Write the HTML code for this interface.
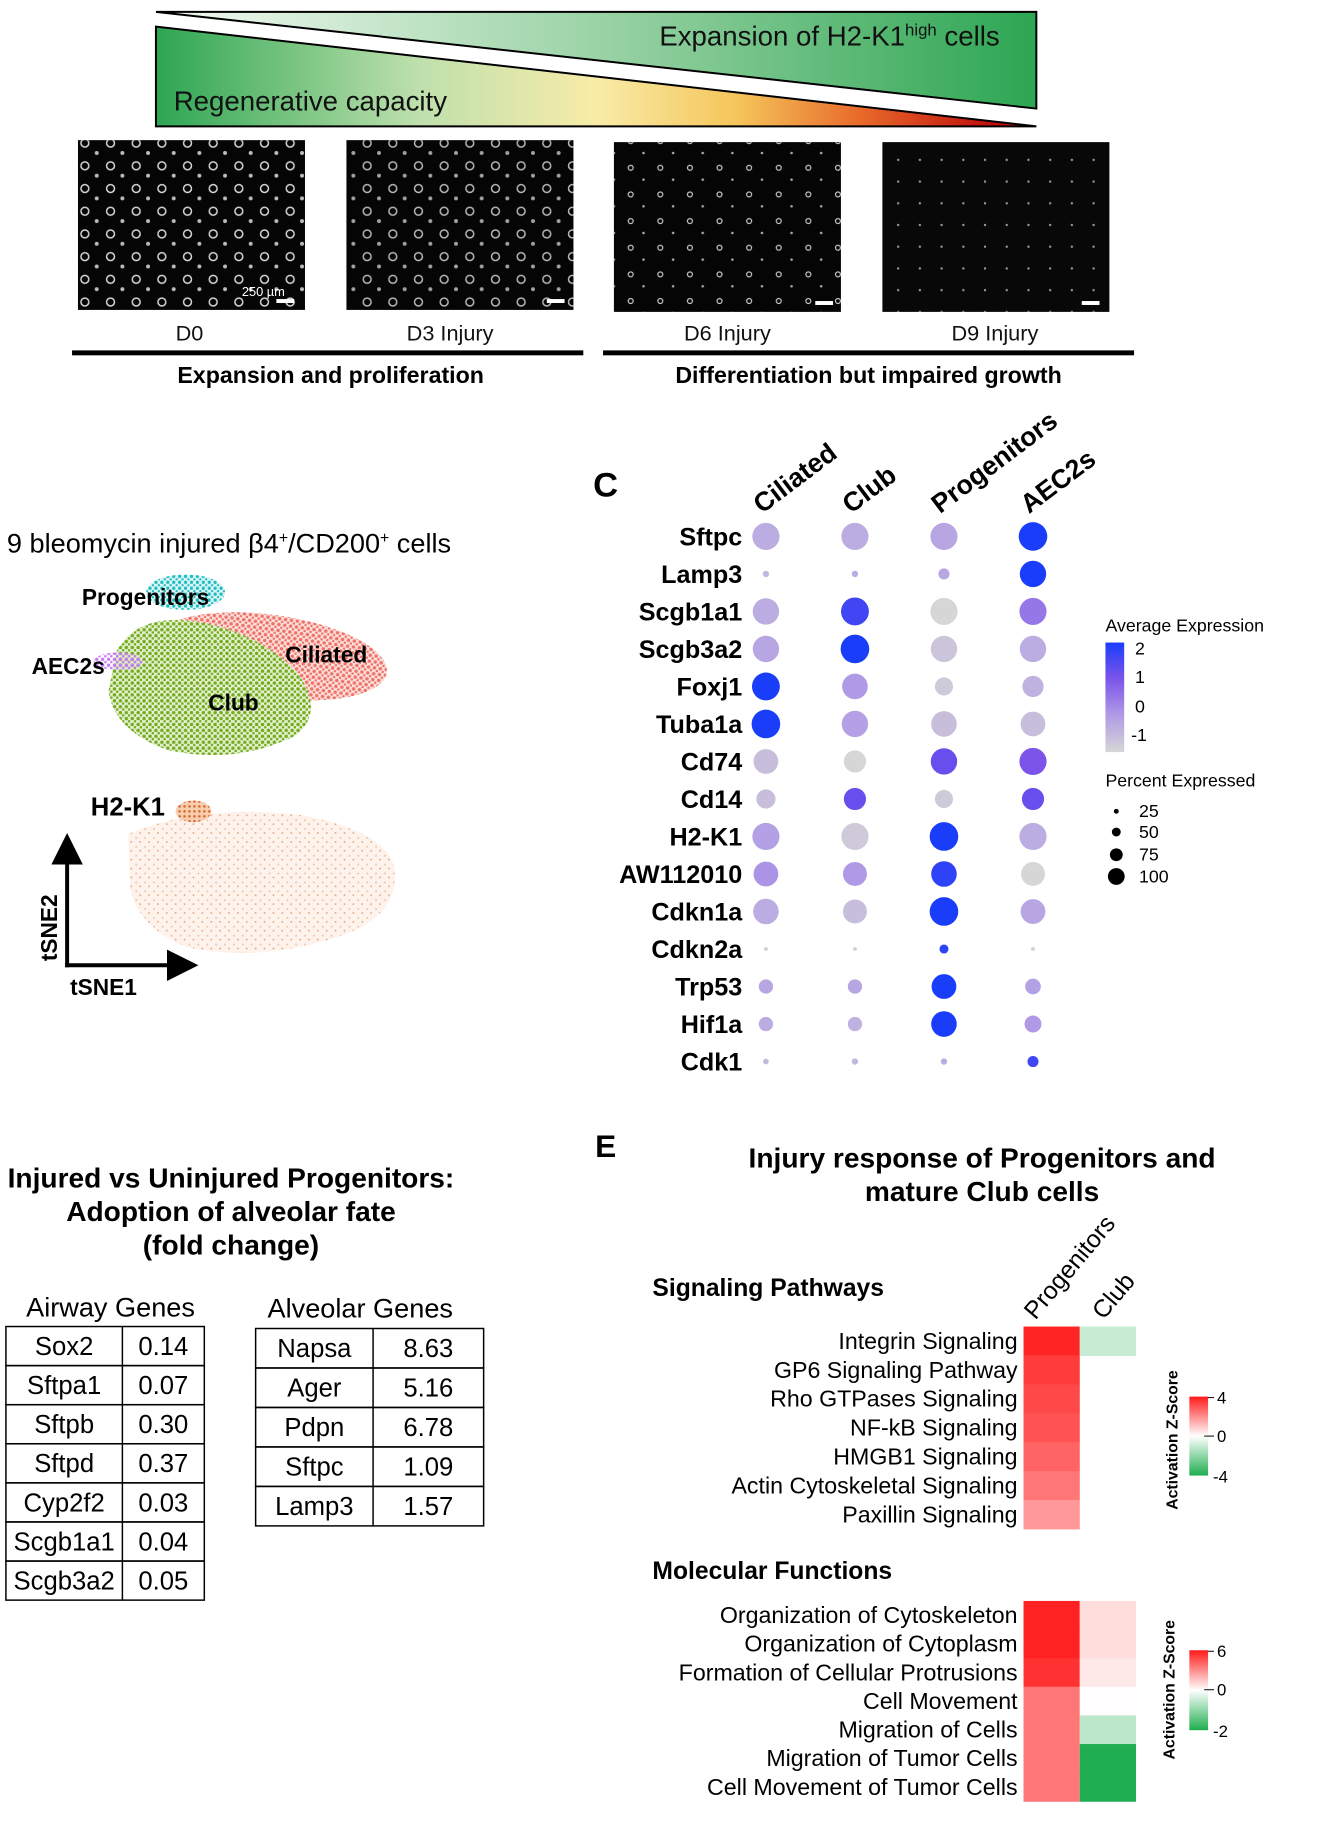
<!DOCTYPE html>
<html><head><meta charset="utf-8"><style>
body{margin:0;background:#fff;}
svg{display:block;font-family:"Liberation Sans",Arial,sans-serif;}
</style></head><body>
<svg id="fig" width="1335" height="1827" viewBox="0 0 1335 1827" xmlns="http://www.w3.org/2000/svg">
<defs>
<linearGradient id="gUp" x1="0" x2="1" y1="0" y2="0"><stop offset="0" stop-color="#f4faf2"/><stop offset="0.5" stop-color="#9bd3a6"/><stop offset="1" stop-color="#2da653"/></linearGradient>
<linearGradient id="gLow" x1="0" x2="1" y1="0" y2="0"><stop offset="0" stop-color="#2da653"/><stop offset="0.3" stop-color="#bfe0ad"/><stop offset="0.5" stop-color="#f8eca8"/><stop offset="0.66" stop-color="#f5c55a"/><stop offset="0.8" stop-color="#e86a2a"/><stop offset="0.95" stop-color="#c00d0d"/></linearGradient>
<pattern id="pRing" width="26" height="23" patternUnits="userSpaceOnUse"><circle cx="8" cy="7" r="4" fill="none" stroke="#d8d8d8" stroke-width="1.5"/><circle cx="20" cy="17" r="2" fill="#bbb"/></pattern>
<pattern id="pRing2" width="30" height="27" patternUnits="userSpaceOnUse"><circle cx="9" cy="8" r="2.5" fill="none" stroke="#c8c8c8" stroke-width="1.2"/><circle cx="22" cy="20" r="1.3" fill="#aaa"/></pattern>
<pattern id="pRing3" width="22" height="22" patternUnits="userSpaceOnUse"><circle cx="8" cy="8" r="1.2" fill="#999"/></pattern>
<pattern id="pGreen" width="6" height="6" patternUnits="userSpaceOnUse"><rect width="6" height="6" fill="#e6f0d4"/><circle cx="2" cy="2" r="1.8" fill="#74ac1c"/><circle cx="5" cy="5" r="1.5" fill="#74ac1c"/></pattern>
<pattern id="pRed" width="6" height="6" patternUnits="userSpaceOnUse"><rect width="6" height="6" fill="#fbe0dc"/><circle cx="2" cy="2" r="1.8" fill="#f07167"/><circle cx="5" cy="5" r="1.4" fill="#f07167"/></pattern>
<pattern id="pCyan" width="6" height="6" patternUnits="userSpaceOnUse"><rect width="6" height="6" fill="#e0f6f6"/><circle cx="2" cy="2" r="1.7" fill="#1bbdc0"/><circle cx="5" cy="5" r="1.3" fill="#1bbdc0"/></pattern>
<pattern id="pPurp" width="6" height="6" patternUnits="userSpaceOnUse"><circle cx="2" cy="2" r="1.8" fill="#c47cf5"/><circle cx="5" cy="5" r="1.5" fill="#c47cf5"/></pattern>
<pattern id="pPeach" width="9" height="9" patternUnits="userSpaceOnUse"><rect width="9" height="9" fill="#fdf3ec"/><circle cx="3" cy="3" r="1" fill="#f2c3a2"/><circle cx="7" cy="7" r="0.9" fill="#e79a6a"/></pattern>
<pattern id="pOrange" width="5" height="5" patternUnits="userSpaceOnUse"><rect width="5" height="5" fill="#f7cfb0"/><circle cx="2" cy="2" r="1.3" fill="#d9652a"/></pattern>
<linearGradient id="cbBlue" x1="0" x2="0" y1="0" y2="1"><stop offset="0" stop-color="#1a3dfa"/><stop offset="0.33" stop-color="#7c54ea"/><stop offset="0.66" stop-color="#b09ae6"/><stop offset="1" stop-color="#d6d6d6"/></linearGradient>
<linearGradient id="cbRG" x1="0" x2="0" y1="0" y2="1"><stop offset="0" stop-color="#ff1a1a"/><stop offset="0.5" stop-color="#ffffff"/><stop offset="1" stop-color="#1fae50"/></linearGradient>
<linearGradient id="cbRG2" x1="0" x2="0" y1="0" y2="1"><stop offset="0" stop-color="#ff1a1a"/><stop offset="0.5" stop-color="#ffffff"/><stop offset="1" stop-color="#1fae50"/></linearGradient>
<marker id="arr" markerWidth="8" markerHeight="8" refX="4" refY="4" orient="auto"><path d="M0,0 L8,4 L0,8 Z" fill="#000"/></marker>
</defs>
<g id="root" transform="scale(0.987)">
<!-- Banner -->
<g>
<polygon points="158,12 1050,12 1050,110" fill="url(#gUp)" stroke="#000" stroke-width="2"/>
<polygon points="158,27 1050,128 158,128" fill="url(#gLow)" stroke="#000" stroke-width="2"/>
<text x="668" y="46" font-size="28" fill="#111">Expansion of H2-K1<tspan font-size="17" dy="-10">high</tspan><tspan dy="10"> cells</tspan></text>
<text x="176" y="112" font-size="28" fill="#111">Regenerative capacity</text>
</g>

<!-- Images -->
<g>
<rect x="79" y="142" width="230" height="172" fill="#050505"/><rect x="79" y="142" width="230" height="172" fill="url(#pRing)"/>
<rect x="351" y="142" width="230" height="172" fill="#050505"/><rect x="351" y="142" width="230" height="172" fill="url(#pRing)" opacity="0.85"/>
<rect x="622" y="144" width="230" height="172" fill="#050505"/><rect x="622" y="144" width="230" height="172" fill="url(#pRing2)"/>
<rect x="894" y="144" width="230" height="172" fill="#080808"/><rect x="894" y="144" width="230" height="172" fill="url(#pRing3)"/>
<text x="245" y="300" font-size="13" fill="#fff">250 µm</text>
<rect x="280" y="303" width="18" height="4" fill="#fff"/><rect x="554" y="303" width="18" height="4" fill="#fff"/><rect x="826" y="305" width="18" height="4" fill="#fff"/><rect x="1096" y="305" width="18" height="4" fill="#fff"/>
</g>
<g font-size="22" text-anchor="middle" fill="#111">
<text x="192" y="345">D0</text>
<text x="456" y="345">D3 Injury</text>
<text x="737" y="345">D6 Injury</text>
<text x="1008" y="345">D9 Injury</text>
</g>
<rect x="73" y="355" width="518" height="5" fill="#000"/>
<rect x="611" y="355" width="538" height="5" fill="#000"/>
<text x="335" y="388" font-size="23.5" font-weight="bold" text-anchor="middle">Expansion and proliferation</text>
<text x="880" y="388" font-size="23.5" font-weight="bold" text-anchor="middle">Differentiation but impaired growth</text>

<!-- tSNE -->
<text x="7" y="560" font-size="27.5">9 bleomycin injured β4<tspan font-size="16" dy="-10">+</tspan><tspan dy="10">/CD200</tspan><tspan font-size="16" dy="-10">+</tspan><tspan dy="10"> cells</tspan></text>
<g>
<ellipse cx="275" cy="665" rx="118" ry="42" fill="url(#pRed)" transform="rotate(8 275 665)"/>
<path d="M118,660 Q140,620 200,630 Q260,640 300,680 Q330,720 300,745 Q240,775 170,760 Q115,740 110,700 Z" fill="url(#pGreen)"/>
<ellipse cx="188" cy="600" rx="40" ry="18" fill="url(#pCyan)"/>
<ellipse cx="120" cy="670" rx="25" ry="9" fill="url(#pPurp)"/>
<text x="83" y="613" font-size="23" font-weight="bold">Progenitors</text>
<text x="32" y="683" font-size="23" font-weight="bold">AEC2s</text>
<text x="289" y="671" font-size="23" font-weight="bold">Ciliated</text>
<text x="211" y="720" font-size="23" font-weight="bold">Club</text>
</g>
<g>
<path d="M130,845 Q200,815 300,825 Q390,840 400,880 Q405,930 340,950 Q260,975 190,960 Q140,940 132,900 Z" fill="url(#pPeach)"/>
<ellipse cx="196" cy="822" rx="18" ry="11" fill="url(#pOrange)"/>
<text x="92" y="826" font-size="26" font-weight="bold">H2-K1</text>
<line x1="68" y1="980" x2="68" y2="860" stroke="#000" stroke-width="4" marker-end="url(#arr)"/>
<line x1="66" y1="978" x2="185" y2="978" stroke="#000" stroke-width="4" marker-end="url(#arr)"/>
<text transform="translate(58 940) rotate(-90)" font-size="23" font-weight="bold" text-anchor="middle">tSNE2</text>
<text x="71" y="1008" font-size="23" font-weight="bold">tSNE1</text>
</g>

<!-- Dot plot -->
<text x="601" y="503" font-size="35" font-weight="bold">C</text>
<g id="dotplot"></g>
<g font-size="18">
<text x="1120" y="640">Average Expression</text>
<rect x="1120" y="651" width="19" height="111" fill="url(#cbBlue)"/>
<text x="1150" y="663">2</text><text x="1150" y="692">1</text><text x="1150" y="722">0</text><text x="1146" y="751">-1</text>
<text x="1120" y="797">Percent Expressed</text>
<circle cx="1131" cy="822" r="2.5"/><text x="1154" y="828">25</text>
<circle cx="1131" cy="843" r="4.5"/><text x="1154" y="849">50</text>
<circle cx="1131" cy="866" r="6.5"/><text x="1154" y="872">75</text>
<circle cx="1131" cy="888" r="8.5"/><text x="1154" y="894">100</text>
</g>

<!-- Table -->
<g font-size="28.5" font-weight="bold" text-anchor="middle">
<text x="234" y="1203">Injured vs Uninjured Progenitors:</text>
<text x="234" y="1237">Adoption of alveolar fate</text>
<text x="234" y="1271">(fold change)</text>
</g>
<text x="112" y="1334" font-size="27.5" text-anchor="middle">Airway Genes</text>
<text x="365" y="1335" font-size="27.5" text-anchor="middle">Alveolar Genes</text>
<g id="tables"></g>

<!-- Panel E -->
<text x="603" y="1172" font-size="32" font-weight="bold">E</text>
<g font-size="28.5" font-weight="bold" text-anchor="middle">
<text x="995" y="1183">Injury response of Progenitors and</text>
<text x="995" y="1217">mature Club cells</text>
</g>
<text x="661" y="1313" font-size="25" font-weight="bold">Signaling Pathways</text>
<text x="661" y="1600" font-size="25" font-weight="bold">Molecular Functions</text>
<text x="1049" y="1338" transform="rotate(-50 1049 1338)" font-size="25">Progenitors</text>
<text x="1118" y="1338" transform="rotate(-50 1118 1338)" font-size="25">Club</text>
<g id="heat"></g>
<g>
<rect x="1205" y="1415" width="19" height="80" fill="url(#cbRG)"/>
<line x1="1224" y1="1416" x2="1230" y2="1416" stroke="#000"/><line x1="1220" y1="1455" x2="1230" y2="1455" stroke="#000"/>
<text x="1233" y="1422" font-size="17">4</text><text x="1233" y="1461" font-size="17">0</text><text x="1229" y="1502" font-size="17">-4</text>
<text transform="translate(1193 1459) rotate(-90)" font-size="16" font-weight="bold" text-anchor="middle">Activation Z-Score</text>
</g>
<g>
<rect x="1205" y="1672" width="19" height="81" fill="url(#cbRG2)"/>
<line x1="1224" y1="1673" x2="1230" y2="1673" stroke="#000"/><line x1="1220" y1="1712" x2="1230" y2="1712" stroke="#000"/>
<text x="1233" y="1679" font-size="17">6</text><text x="1233" y="1718" font-size="17">0</text><text x="1229" y="1760" font-size="17">-2</text>
<text transform="translate(1190 1712) rotate(-90)" font-size="16" font-weight="bold" text-anchor="middle">Activation Z-Score</text>
</g>
</g>
</svg>
<script>
const NS="http://www.w3.org/2000/svg";
// Dot plot data
const dotGenes=["Sftpc","Lamp3","Scgb1a1","Scgb3a2","Foxj1","Tuba1a","Cd74","Cd14","H2-K1","AW112010","Cdkn1a","Cdkn2a","Trp53","Hif1a","Cdk1"];
const dotGroups=["Ciliated","Club","Progenitors","AEC2s"];
const pctCiliated=[90,5,85,85,95,100,75,45,90,75,80,2,25,25,4];
const pctClub=[90,5,95,100,80,85,60,60,90,70,70,2,25,25,5];
const pctProg=[90,15,90,85,40,80,85,40,100,80,100,10,75,80,5];
const pctAEC2=[100,85,90,85,55,75,90,60,90,70,75,2,30,35,15];
const exprCiliated=[-0.3,-0.5,-0.3,-0.2,2,2,-0.6,-0.6,-0.1,0.1,-0.3,-1,-0.2,-0.3,-0.5];
const exprClub=[-0.3,-0.3,1.6,2,0,-0.1,-1,1.2,-0.8,0,-0.6,-1,-0.2,-0.4,-0.5];
const exprProg=[-0.2,-0.2,-1,-0.7,-0.8,-0.6,1.2,-0.8,2,1.8,2,1.8,2,2,-0.3];
const exprAEC2=[2,2,0.5,-0.3,-0.4,-0.6,1,1.2,-0.3,-1,-0.2,-1,-0.1,0,1.6];
const pctAll=[pctCiliated,pctClub,pctProg,pctAEC2], exprAll=[exprCiliated,exprClub,exprProg,exprAEC2];
const colX=i=>776+i*90.2, rowY=j=>543.5+j*38, rad=p=>Math.max(1.5,14.5*Math.sqrt(p/100));
function lerp(a,b,t){return a.map((v,i)=>Math.round(v+(b[i]-v)*t));}
const stops=[[-1,[214,214,214]],[0,[176,154,230]],[1,[124,84,234]],[2,[26,61,250]]];
function ecol(v){v=Math.max(-1,Math.min(2,v));for(let k=0;k<3;k++){if(v<=stops[k+1][0]){const c=lerp(stops[k][1],stops[k+1][1],v-stops[k][0]);return `rgb(${c})`;}}}
const dp=document.getElementById("dotplot");
function mk(tag,attrs,parent,txt){const e=document.createElementNS(NS,tag);for(const k in attrs)e.setAttribute(k,attrs[k]);if(txt!=null)e.textContent=txt;parent.appendChild(e);return e;}
dotGroups.forEach((g,i)=>{
  const lx=colX(i)-4, ly=521;
  const t=mk("text",{x:lx,y:ly,"font-size":27,"font-weight":"bold",transform:`rotate(-37 ${lx} ${ly})`},dp,g);
  
  
});
dotGenes.forEach((g,j)=>{
  const t=mk("text",{x:752,y:rowY(j)+9,"font-size":25.5,"font-weight":"bold","text-anchor":"end"},dp,g);
  
  
  for(let i=0;i<4;i++){
    const c=mk("circle",{cx:colX(i),cy:rowY(j),r:rad(pctAll[i][j]),fill:ecol(exprAll[i][j])},dp);
    
    
  }
});
// Tables
const airwayGenes=["Sox2","Sftpa1","Sftpb","Sftpd","Cyp2f2","Scgb1a1","Scgb3a2"];
const airwayVals=["0.14","0.07","0.30","0.37","0.03","0.04","0.05"];
const alveolarGenes=["Napsa","Ager","Pdpn","Sftpc","Lamp3"];
const alveolarVals=["8.63","5.16","6.78","1.09","1.57"];
const tb=document.getElementById("tables");
function table(genes,vals,x0,xd,x1,y0,h){
  genes.forEach((g,k)=>{
    const y=y0+k*h;
    const r=mk("rect",{x:x0,y:y,width:x1-x0,height:h,fill:"none",stroke:"#000","stroke-width":1.5},tb);
    
    
    mk("line",{x1:xd,x2:xd,y1:y,y2:y+h,stroke:"#000","stroke-width":1.5},tb);
    mk("text",{x:(x0+xd)/2,y:y+h/2+9,"font-size":26,"text-anchor":"middle"},tb,g);
    mk("text",{x:(xd+x1)/2,y:y+h/2+9,"font-size":26,"text-anchor":"middle"},tb,vals[k]);
  });
}
table(airwayGenes,airwayVals,6,124,207,1344,39.6);
table(alveolarGenes,alveolarVals,259,378,490,1346,40);
// Heatmaps
const sigPaths=["Integrin Signaling","GP6 Signaling Pathway","Rho GTPases Signaling","NF-kB Signaling","HMGB1 Signaling","Actin Cytoskeletal Signaling","Paxillin Signaling"];
const sigProg=[3.8,3.4,3.2,3.0,2.7,2.4,1.8];
const sigClub=[-1.0,null,null,null,null,null,null];
const molFuncs=["Organization of Cytoskeleton","Organization of Cytoplasm","Formation of Cellular Protrusions","Cell Movement","Migration of Cells","Migration of Tumor Cells","Cell Movement of Tumor Cells"];
const molProg=[5.8,5.8,5.4,3.6,3.6,3.6,3.6];
const molClub=[0.9,0.9,0.6,0.05,-0.6,-2,-2];
function zcol(v,max,min){if(v>=0){const c=lerp([255,255,255],[255,26,26],Math.min(1,v/max));return `rgb(${c})`;}const c=lerp([255,255,255],[31,174,80],Math.min(1,v/min));return `rgb(${c})`;}
const hm=document.getElementById("heat");
function heat(labels,p,c,y0,h,max,min){
  labels.forEach((l,k)=>{
    const y=y0+k*h;
    mk("text",{x:1031,y:y+h/2+8,"font-size":23.5,"text-anchor":"end"},hm,l);
    const a=mk("rect",{x:1037,y:y,width:57,height:h+0.5,fill:zcol(p[k],max,min)},hm);
    
    
    if(c[k]!==null){
      const b=mk("rect",{x:1094,y:y,width:57,height:h+0.5,fill:zcol(c[k],max,min)},hm);
      
      
    }
  });
}
heat(sigPaths,sigProg,sigClub,1344,29.3,4,-4);
heat(molFuncs,molProg,molClub,1622,29,6,-2);
</script>
</body></html>
